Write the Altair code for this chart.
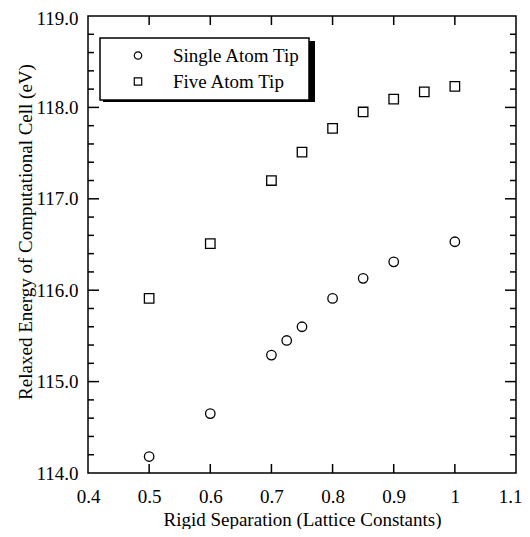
import altair as alt
import pandas as pd

# ---- data ----
series_names = ["Single Atom Tip", "Five Atom Tip"]
x_single = [0.5, 0.6, 0.7, 0.725, 0.75, 0.8, 0.85, 0.9, 1.0]
e_single = [114.18, 114.65, 115.29, 115.45, 115.60, 115.91, 116.13, 116.31, 116.53]
x_five = [0.5, 0.6, 0.7, 0.75, 0.8, 0.85, 0.9, 0.95, 1.0]
e_five = [115.91, 116.51, 117.20, 117.51, 117.77, 117.95, 118.09, 118.17, 118.23]

x_label_values = [0.4, 0.5, 0.6, 0.7, 0.8, 0.9, 1.0, 1.1]
y_label_values = [114.0, 115.0, 116.0, 117.0, 118.0, 119.0]
x_tick_values = [0.5, 0.6, 0.7, 0.8, 0.9, 1.0]
y_major_ticks = [115.0, 116.0, 117.0, 118.0]
y_minor_ticks = [114.2, 114.4, 114.6, 114.8, 115.2, 115.4, 115.6, 115.8,
                 116.2, 116.4, 116.6, 116.8, 117.2, 117.4, 117.6, 117.8,
                 118.2, 118.4, 118.6, 118.8]

FONT = "'Liberation Serif', 'Times New Roman', 'DejaVu Serif', serif"
W, H = 428, 457

df = pd.DataFrame({
    "sep": x_single + x_five,
    "energy": e_single + e_five,
    "series": [series_names[0]] * len(x_single) + [series_names[1]] * len(x_five),
})

xscale = alt.Scale(domain=[0.4, 1.1], nice=False, zero=False)
yscale = alt.Scale(domain=[114.0, 119.0], nice=False, zero=False)

x_axis = alt.Axis(
    values=x_label_values, format="~g", title="Rigid Separation (Lattice Constants)",
    ticks=False, tickSize=0, domain=False, grid=False, labelFlush=False,
    labelPadding=29, labelBaseline="alphabetic",
    labelOffset={"condition": {"test": "datum.value > 1.05", "value": -6}, "value": 0},
    titleY=52, titleBaseline="alphabetic", titleFontWeight="normal",
    labelFont=FONT, titleFont=FONT, labelFontSize=19, titleFontSize=19,
    labelColor="black", titleColor="black",
)
y_axis = alt.Axis(
    values=y_label_values, format=".1f", title="Relaxed Energy of Computational Cell (eV)",
    ticks=False, tickSize=0, domain=False, grid=False, labelFlush=False,
    labelPadding=10, labelBaseline="middle",
    labelOffset={"condition": {"test": "datum.value > 118.5", "value": 2}, "value": 0},
    titleX=-57, titleY=215.5, titleAngle=270, titleAlign="center",
    titleBaseline="alphabetic", titleFontWeight="normal",
    labelFont=FONT, titleFont=FONT, labelFontSize=19, titleFontSize=19,
    labelColor="black", titleColor="black",
)

points = alt.Chart(df).mark_point(
    filled=False, size=90, strokeWidth=1.3, color="black", opacity=1
).encode(
    x=alt.X("sep:Q", scale=xscale, axis=x_axis),
    y=alt.Y("energy:Q", scale=yscale, axis=y_axis),
    shape=alt.Shape(
        "series:N",
        scale=alt.Scale(domain=series_names, range=["circle", "square"]),
        legend=alt.Legend(
            title=None, orient="none", legendX=12, legendY=22,
            fillColor="white", strokeColor="black", padding=8,
            rowPadding=6, symbolOffset=20.5, labelOffset=25.5,
            symbolSize=55, symbolStrokeWidth=1.2, symbolStrokeColor="black",
            labelFont=FONT, labelFontSize=19, labelColor="black", labelLimit=400,
        ),
    ),
)

xt = pd.DataFrame({"sep": x_tick_values})
ymaj = pd.DataFrame({"energy": y_major_ticks})
ymin = pd.DataFrame({"energy": y_minor_ticks})

rule = dict(color="black", strokeWidth=1.5)
bottom_ticks = alt.Chart(xt).mark_rule(**rule).encode(
    x=alt.X("sep:Q", scale=xscale), y=alt.value(H), y2=alt.value(H - 9))
top_ticks = alt.Chart(xt).mark_rule(**rule).encode(
    x=alt.X("sep:Q", scale=xscale), y=alt.value(0), y2=alt.value(9))
left_major = alt.Chart(ymaj).mark_rule(**rule).encode(
    y=alt.Y("energy:Q", scale=yscale), x=alt.value(0), x2=alt.value(11))
right_major = alt.Chart(ymaj).mark_rule(**rule).encode(
    y=alt.Y("energy:Q", scale=yscale), x=alt.value(W), x2=alt.value(W - 11))
left_minor = alt.Chart(ymin).mark_rule(**rule).encode(
    y=alt.Y("energy:Q", scale=yscale), x=alt.value(0), x2=alt.value(6))
right_minor = alt.Chart(ymin).mark_rule(**rule).encode(
    y=alt.Y("energy:Q", scale=yscale), x=alt.value(W), x2=alt.value(W - 6))

# drop shadow behind the legend box
shadow = alt.Chart(pd.DataFrame({"k": [0]})).mark_rect(color="black").encode(
    x=alt.value(15), x2=alt.value(227), y=alt.value(25), y2=alt.value(86))

chart = alt.layer(
    shadow, bottom_ticks, top_ticks, left_major, right_major, left_minor, right_minor, points
).properties(
    width=W, height=H,
    autosize=alt.AutoSizeParams(type="none"),
    padding={"left": 80, "top": 8, "right": 6, "bottom": 56},
    background="white",
).configure(font=FONT).configure_view(
    stroke="black", strokeWidth=1.5
).configure_legend(strokeWidth=1.5)

chart.save("out.html", embed_options={"renderer": "svg", "actions": False})
